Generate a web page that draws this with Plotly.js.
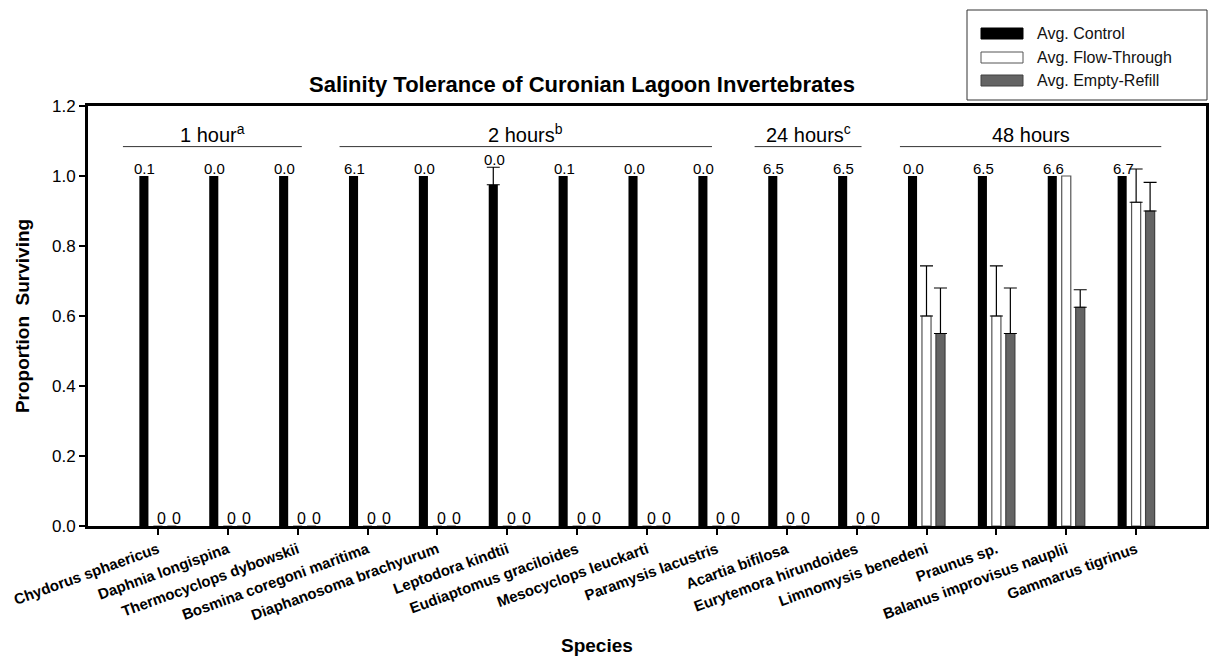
<!DOCTYPE html>
<html>
<head>
<meta charset="utf-8">
<script src="https://cdn.plot.ly/plotly-3.0.1.min.js"></script>
<style>html,body{margin:0;padding:0;background:#fff;}#chart{width:1216px;height:659px;}</style>
</head>
<body>
<div id="chart"></div>
<script>
// ---- data ----
var species = ["Chydorus sphaericus", "Daphnia longispina", "Thermocyclops dybowskii",
  "Bosmina coregoni maritima", "Diaphanosoma brachyurum", "Leptodora kindtii",
  "Eudiaptomus graciloides", "Mesocyclops leuckarti", "Paramysis lacustris",
  "Acartia bifilosa", "Eurytemora hirundoides", "Limnomysis benedeni",
  "Praunus sp.", "Balanus improvisus nauplii", "Gammarus tigrinus"];
var seriesNames = ["Avg. Control", "Avg. Flow-Through", "Avg. Empty-Refill"];
var control    = [1, 1, 1, 1, 1, 0.975, 1, 1, 1, 1, 1, 1, 1, 1, 1];
var controlErr = [null, null, null, null, null, 0.05, null, null, null, null, null, null, null, null, null];
var flow       = [0, 0, 0, 0, 0, 0, 0, 0, 0, 0, 0, 0.6, 0.6, 1.0, 0.925];
var flowErr    = [null, null, null, null, null, null, null, null, null, null, null, 0.143, 0.143, null, 0.095];
var refill     = [0, 0, 0, 0, 0, 0, 0, 0, 0, 0, 0, 0.55, 0.55, 0.625, 0.9];
var refillErr  = [null, null, null, null, null, null, null, null, null, null, null, 0.13, 0.13, 0.05, 0.082];
var controlLabels = ["0.1", "0.0", "0.0", "6.1", "0.0", "0.0", "0.1", "0.0", "0.0", "6.5", "6.5", "0.0", "6.5", "6.6", "6.7"];
var groupLabels = ["1 hour<sup>a</sup>", "2 hours<sup>b</sup>", "24 hours<sup>c</sup>", "48 hours"];
var groupStart  = [-0.5, 2.6, 8.54, 10.62];
var groupEnd    = [2.06, 7.93, 10.07, 14.36];
var groupLevel  = 1.084;
var yTicks = [0, 0.2, 0.4, 0.6, 0.8, 1.0, 1.2];

// ---- styles ----
var FONT = "Liberation Sans, Arial, sans-serif";
var fills = ["#000000", "#ffffff", "#646464"];
var outlines = ["#000000", "#555555", "#404040"];
var L = 88, R = 1206, T = 106, B = 526;
function px(x) { return (x - L) / (R - L); }
function py(y) { return (B - y) / (B - T); }
function errs(a) { return a.map(function (v) { return v === null ? NaN : v; }); }

function barTrace(vals, err, k) {
  return {
    type: "bar", x: species, y: vals, name: seriesNames[k],
    marker: { color: fills[k], line: { color: outlines[k], width: k === 0 ? 0 : 1.2 } },
    error_y: { type: "data", symmetric: false, array: errs(err), color: "#000", thickness: 1.2, width: 6.5 },
    showlegend: false, hoverinfo: "x+y"
  };
}
var data = [barTrace(control, controlErr, 0), barTrace(flow, flowErr, 1), barTrace(refill, refillErr, 2)];

var annotations = [];
var shapes = [];
species.forEach(function (s, i) {
  var top = control[i] + (controlErr[i] || 0);
  annotations.push({ x: s, y: top, xref: "x", yref: "y", text: controlLabels[i], showarrow: false,
    xshift: -13, yanchor: "bottom", yshift: -3, font: { family: FONT, size: 15, color: "#000" } });
  if (flow[i] === 0) annotations.push({ x: s, y: 0, xref: "x", yref: "y", text: "0", showarrow: false,
    xshift: 4, yanchor: "bottom", yshift: -3, font: { family: FONT, size: 16, color: "#000" } });
  if (refill[i] === 0) annotations.push({ x: s, y: 0, xref: "x", yref: "y", text: "0", showarrow: false,
    xshift: 19, yanchor: "bottom", yshift: -3, font: { family: FONT, size: 16, color: "#000" } });
});
groupLabels.forEach(function (g, i) {
  shapes.push({ type: "line", xref: "x", yref: "y", x0: groupStart[i], x1: groupEnd[i], y0: groupLevel, y1: groupLevel,
    line: { color: "#333", width: 1 } });
  annotations.push({ x: (groupStart[i] + groupEnd[i]) / 2, y: groupLevel, xref: "x", yref: "y", text: g,
    showarrow: false, yanchor: "bottom", yshift: -1, font: { family: FONT, size: 20, color: "#000" } });
});

// custom legend (wide swatches like the original)
shapes.push({ type: "rect", xref: "paper", yref: "paper", x0: px(967), x1: px(1207), y0: py(100), y1: py(10),
  line: { color: "#333", width: 1 }, fillcolor: "#fff" });
var rowY = [33.5, 57.5, 80.5];
seriesNames.forEach(function (n, k) {
  shapes.push({ type: "rect", xref: "paper", yref: "paper", x0: px(981), x1: px(1023),
    y0: py(rowY[k] + 5.5), y1: py(rowY[k] - 5.5), line: { color: outlines[k], width: 1 }, fillcolor: fills[k] });
  annotations.push({ xref: "paper", yref: "paper", x: px(1035), y: py(rowY[k]), xanchor: "left", yanchor: "middle",
    text: n, showarrow: false, font: { family: FONT, size: 16, color: "#111" } });
});

// x-axis title (placed like the original, left of plot centre)
annotations.push({ xref: "paper", yref: "paper", x: px(597), y: py(645), xanchor: "center", yanchor: "middle",
  text: "<b>Species</b>", showarrow: false, font: { family: FONT, size: 19, color: "#000" } });

var layout = {
  width: 1216, height: 659,
  margin: { l: L, r: 1216 - R, t: T, b: 659 - B },
  paper_bgcolor: "#fff", plot_bgcolor: "#fff",
  font: { family: FONT, color: "#000" },
  barmode: "group", bargap: 0.4, bargroupgap: 0.35,
  title: { text: "<b>Salinity Tolerance of Curonian Lagoon Invertebrates</b>", font: { family: FONT, size: 22, color: "#000" },
    xref: "container", yref: "container", x: 582 / 1216, xanchor: "center", y: 1 - 92 / 659, yanchor: "bottom" },
  xaxis: {
    type: "category", range: [-1, 15], showgrid: false, zeroline: false,
    showline: true, linewidth: 3, linecolor: "#000", mirror: true,
    ticks: "outside", ticklen: 6, tickwidth: 2, tickcolor: "#000",
    tickangle: -20, tickfont: { family: FONT, size: 15, color: "#000", weight: "bold" }
  },
  yaxis: {
    range: [0, 1.2], tickvals: yTicks, tickformat: ".1f", showgrid: false, zeroline: false,
    showline: true, linewidth: 3, linecolor: "#000", mirror: true,
    ticks: "outside", ticklen: 6, tickwidth: 2, tickcolor: "#000",
    tickfont: { family: FONT, size: 17, color: "#000" },
    title: { text: "<b>Proportion\u00a0 Surviving</b>", font: { family: FONT, size: 19, color: "#000" }, standoff: 18 }
  },
  shapes: shapes,
  annotations: annotations,
  showlegend: false
};
Plotly.newPlot("chart", data, layout, { displayModeBar: false, staticPlot: true });
</script>
</body>
</html>
